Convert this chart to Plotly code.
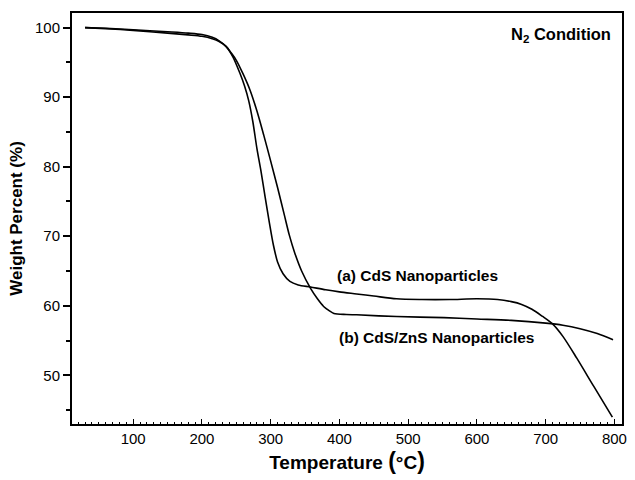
import plotly.graph_objects as go

# CdS nanoparticles (a)
temp_a = [30, 60, 100, 150, 180, 200, 215, 225, 235, 245, 255, 262, 268, 274, 280, 286, 292, 298, 304, 310, 318, 328, 340, 358, 380, 400, 425, 450, 483, 520, 560, 600, 630, 650, 665, 680, 695, 710, 725, 745, 770, 797]
wt_a = [100, 99.85, 99.6, 99.2, 98.95, 98.75, 98.4, 98.0, 97.3, 95.8, 93.5, 91.6, 89.5, 86.5, 82.6, 79.3, 75.6, 72.0, 68.7, 66.3, 64.6, 63.5, 63.0, 62.7, 62.3, 62.0, 61.7, 61.4, 61.0, 60.9, 60.9, 61.0, 60.9, 60.6, 60.2, 59.5, 58.5, 57.4, 55.6, 52.5, 48.4, 44.0]

# CdS/ZnS nanoparticles (b)
temp_b = [30, 60, 100, 150, 180, 200, 215, 225, 235, 243, 250, 260, 270, 280, 290, 300, 310, 320, 327, 335, 345, 358, 368, 377, 385, 392, 410, 425, 483, 552, 600, 650, 700, 725, 750, 775, 798]
wt_b = [100, 99.9, 99.7, 99.4, 99.2, 99.0, 98.6, 98.1, 97.3, 96.3, 95.3, 93.3, 91.0, 88.0, 84.5, 80.8, 77.0, 73.0, 70.2, 67.6, 65.0, 62.5, 61.0, 59.9, 59.3, 58.9, 58.75, 58.7, 58.45, 58.3, 58.1, 57.9, 57.5, 57.2, 56.7, 56.0, 55.1]

x_ticks = [100, 200, 300, 400, 500, 600, 700, 800]
y_ticks = [50, 60, 70, 80, 90, 100]

FONT = "Liberation Sans, Arial, sans-serif"

fig = go.Figure()
for t, w in [(temp_a, wt_a), (temp_b, wt_b)]:
    fig.add_trace(go.Scatter(x=t, y=w, mode="lines",
                             line=dict(color="black", width=1.6, shape="spline", smoothing=0.8),
                             showlegend=False, hoverinfo="skip"))

fig.update_xaxes(range=[11, 811], tickvals=x_ticks, ticks="inside", ticklen=5, tickwidth=1,
                 tickcolor="black", showline=True, linecolor="black", linewidth=2, mirror=True,
                 showgrid=False, zeroline=False,
                 minor=dict(dtick=10, tick0=0, ticks="inside", ticklen=2.5, tickcolor="black", tickwidth=1),
                 tickfont=dict(family=FONT, size=15, color="black"),
                 title=dict(text="<b>Temperature <span style='font-size:23px'>(</span>°C<span style='font-size:23px'>)</span></b>",
                            font=dict(family=FONT, size=19, color="black"), standoff=10))
fig.update_yaxes(range=[43, 102.1], tickvals=y_ticks, ticks="outside", ticklen=7, tickwidth=1.5,
                 tickcolor="black", showline=True, linecolor="black", linewidth=2, mirror=True,
                 showgrid=False, zeroline=False,
                 minor=dict(dtick=5, tick0=0, ticks="outside", ticklen=4, tickcolor="black", tickwidth=1.5),
                 tickfont=dict(family=FONT, size=15, color="black"),
                 title=dict(text="<b>Weight Percent (%)</b>", font=dict(family=FONT, size=17, color="black"), standoff=8))

lab_font = dict(family=FONT, size=15.5, color="black")
fig.add_annotation(xref="x", yref="y", x=798, y=98.9, text="<b>N<sub>2</sub> Condition</b>",
                   showarrow=False, font=dict(family=FONT, size=16.5, color="black"),
                   xanchor="right", yanchor="middle")
fig.add_annotation(xref="x", yref="y", x=393, y=64.4, text="<b>(a) CdS Nanoparticles</b>",
                   showarrow=False, font=lab_font, xanchor="left", yanchor="middle")
fig.add_annotation(xref="x", yref="y", x=396, y=55.5, text="<b>(b) CdS/ZnS Nanoparticles</b>",
                   showarrow=False, font=lab_font, xanchor="left", yanchor="middle")

fig.update_layout(width=635, height=480, margin=dict(l=72, r=8, t=13, b=56),
                  paper_bgcolor="white", plot_bgcolor="white", font=dict(family=FONT))

fig.write_html("out.html")
